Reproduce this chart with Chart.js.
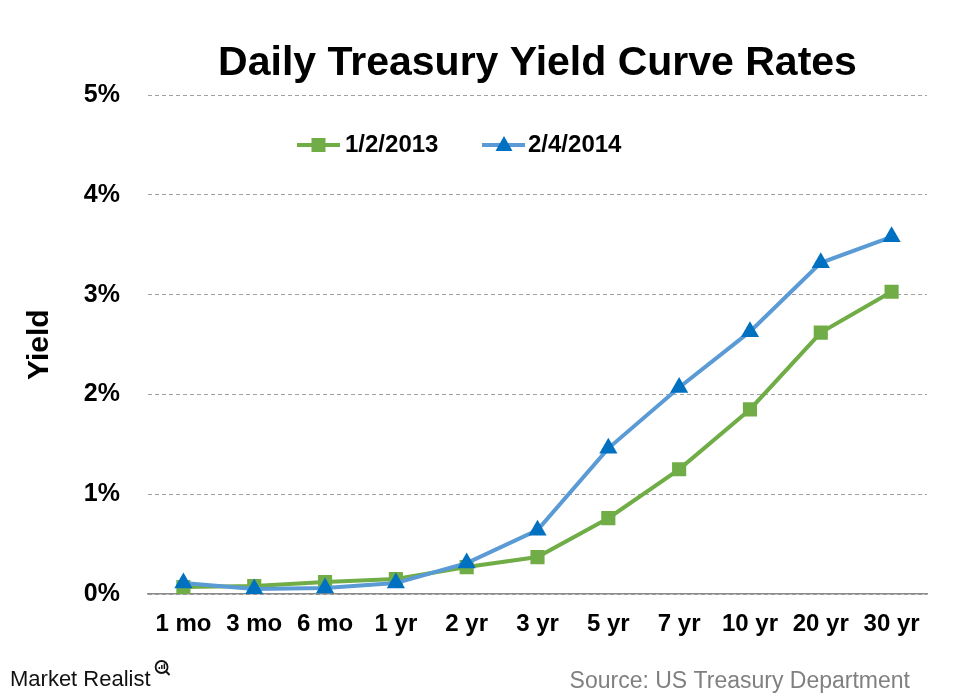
<!DOCTYPE html>
<html>
<head>
    <title>Daily Treasury Yield Curve Rates</title>
    <script src="https://cdn.jsdelivr.net/npm/chart.js"></script>
    <style>
        body { margin: 0; background: #fff; }
        #yieldChart { display: block; }
    </style>
</head>
<body>
    <canvas id="yieldChart" width="975" height="699"></canvas>

    <script>
        // maturities on the x axis
        const maturities = ['1 mo', '3 mo', '6 mo', '1 yr', '2 yr', '3 yr', '5 yr', '7 yr', '10 yr', '20 yr', '30 yr'];

        // yields in percent
        const yields2013 = [0.07, 0.08, 0.12, 0.15, 0.27, 0.37, 0.76, 1.25, 1.85, 2.62, 3.03];
        const yields2014 = [0.11, 0.05, 0.06, 0.11, 0.31, 0.64, 1.46, 2.07, 2.63, 3.32, 3.58];

        const seriesLabels = ['1/2/2013', '2/4/2014'];
        const yTicks = [0, 1, 2, 3, 4, 5];

        const green = '#70ad47';
        const blueLine = '#5b9bd5';
        const blueMark = '#0070c0';
        const FONT = "'Liberation Sans', Arial, sans-serif";

        // legend sits inside the plot, plus the footer texts
        const extras = {
            id: 'extras',
            afterDraw(chart) {
                const ctx = chart.ctx;
                ctx.save();
                const ly = 145;

                // green item
                ctx.strokeStyle = green;
                ctx.lineWidth = 4;
                ctx.beginPath();
                ctx.moveTo(297, ly); ctx.lineTo(340, ly);
                ctx.stroke();
                ctx.fillStyle = green;
                ctx.fillRect(318.5 - 7, ly - 7, 14, 14);

                // blue item
                ctx.strokeStyle = blueLine;
                ctx.beginPath();
                ctx.moveTo(482, ly); ctx.lineTo(525, ly);
                ctx.stroke();
                ctx.fillStyle = blueMark;
                ctx.beginPath();
                ctx.moveTo(504, ly - 9);
                ctx.lineTo(512.5, ly + 6);
                ctx.lineTo(495.5, ly + 6);
                ctx.closePath();
                ctx.fill();

                ctx.fillStyle = '#000';
                ctx.font = 'bold 24px ' + FONT;
                ctx.textBaseline = 'middle';
                ctx.textAlign = 'left';
                ctx.fillText(seriesLabels[0], 345, ly);
                ctx.fillText(seriesLabels[1], 528, ly);

                // footer
                ctx.textBaseline = 'alphabetic';
                ctx.font = '22px ' + FONT;
                ctx.fillStyle = '#111';
                ctx.fillText('Market Realist', 10, 686);
                const mw = ctx.measureText('Market Realist').width;
                // little magnifier logo
                const cx = 10 + mw + 11, cy = 667;
                ctx.strokeStyle = '#111';
                ctx.lineWidth = 1.8;
                ctx.beginPath();
                ctx.arc(cx, cy, 6, 0, Math.PI * 2);
                ctx.stroke();
                ctx.beginPath();
                ctx.moveTo(cx + 4, cy + 4); ctx.lineTo(cx + 8, cy + 8);
                ctx.stroke();
                ctx.fillStyle = '#111';
                ctx.fillRect(cx - 3, cy, 1.5, 2);
                ctx.fillRect(cx - 0.5, cy - 2, 1.5, 4);
                ctx.fillRect(cx + 2, cy - 3.5, 1.5, 5.5);

                ctx.font = '23px ' + FONT;
                ctx.fillStyle = '#808080';
                ctx.textAlign = 'right';
                ctx.fillText('Source: US Treasury Department', 910, 688);
                ctx.restore();
            }
        };

        const chart = new Chart(document.getElementById('yieldChart'), {
            type: 'line',
            data: {
                labels: maturities,
                datasets: [{
                    label: seriesLabels[0],
                    data: yields2013,
                    borderColor: green,
                    backgroundColor: green,
                    borderWidth: 4,
                    pointStyle: 'rect',
                    pointRadius: 10,
                    pointBorderWidth: 0,
                    tension: 0,
                    order: 2
                }, {
                    label: seriesLabels[1],
                    data: yields2014,
                    borderColor: blueLine,
                    backgroundColor: blueMark,
                    pointBackgroundColor: blueMark,
                    borderWidth: 4,
                    pointStyle: 'triangle',
                    pointRadius: 10.5,
                    pointBorderWidth: 0,
                    tension: 0,
                    order: 1
                }]
            },
            options: {
                responsive: false,
                animation: false,
                layout: { padding: { left: 18, right: 48, top: 0, bottom: 55 } },
                scales: {
                    x: {
                        offset: true,
                        grid: { display: false, drawTicks: false },
                        border: { display: true, color: '#8c8c8c', width: 1.5 },
                        ticks: {
                            padding: 16,
                            color: '#000',
                            font: { family: FONT, size: 24, weight: 'bold' }
                        },
                        afterFit(scale) { scale.height = 50; }
                    },
                    y: {
                        min: 0,
                        max: 5,
                        afterBuildTicks(scale) { scale.ticks = yTicks.map(v => ({ value: v })); },
                        grid: { color: '#a0a0a0', drawTicks: false, lineWidth: 1 },
                        border: { display: false, dash: [4, 3] },
                        ticks: {
                            padding: 28,
                            color: '#000',
                            font: { family: FONT, size: 25, weight: 'bold' },
                            callback: v => v + '%'
                        },
                        title: {
                            display: true,
                            text: 'Yield',
                            color: '#000',
                            font: { family: FONT, size: 30, weight: 'bold' },
                            padding: { top: 4, bottom: 4 }
                        },
                        afterFit(scale) { scale.width = 130; }
                    }
                },
                plugins: {
                    legend: { display: false },
                    tooltip: { enabled: false },
                    title: {
                        display: true,
                        fullSize: false,
                        text: 'Daily Treasury Yield Curve Rates',
                        color: '#000',
                        font: { family: FONT, size: 41, weight: 'bold' },
                        padding: { top: 39, bottom: 7 }
                    }
                }
            },
            plugins: [extras]
        });
    </script>
</body>
</html>
